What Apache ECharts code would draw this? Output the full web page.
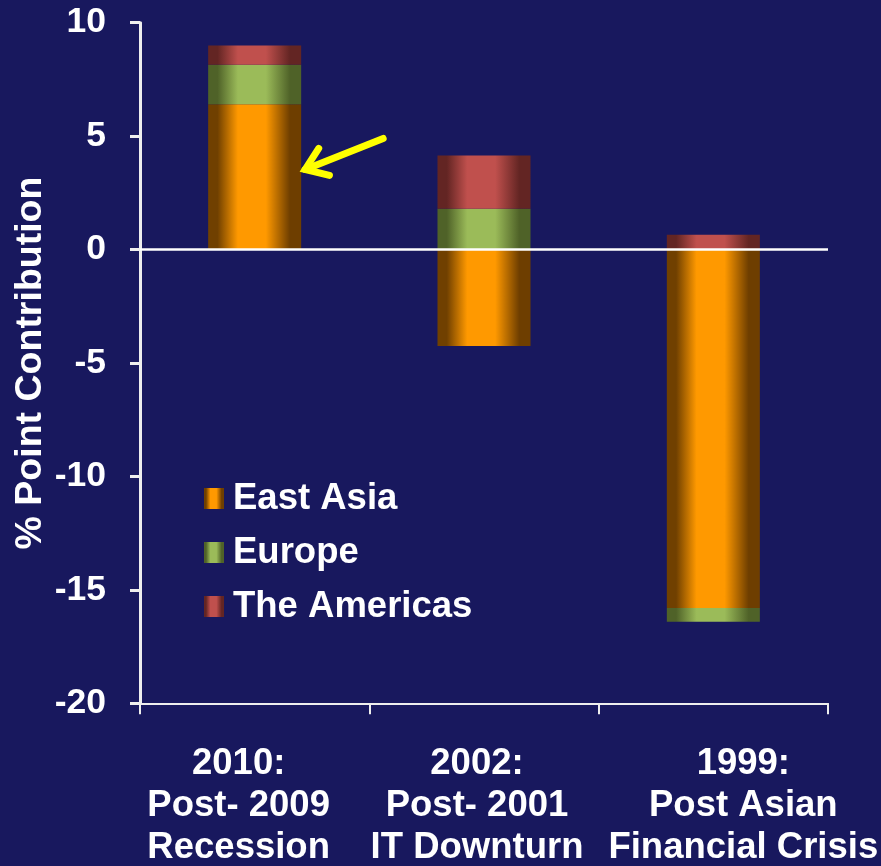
<!DOCTYPE html>
<html>
<head>
<meta charset="utf-8">
<script src="https://cdn.jsdelivr.net/npm/echarts@6/dist/echarts.min.js"></script>
<style>
  html, body { margin: 0; padding: 0; background: #18185e; }
  #chart { width: 881px; height: 866px; }
</style>
</head>
<body>
<div id="chart"></div>
<script>
// Contribution by region to export growth in three recovery periods
const categories = [
  '2010:\nPost- 2009\nRecession',
  '2002:\nPost- 2001\nIT Downturn',
  '1999:\nPost Asian\nFinancial Crisis'
];
const seriesNames = ['East Asia', 'Europe', 'The Americas'];
const eastAsia = [6.4, -4.25, -15.8];
const europe = [1.75, 1.8, -0.6];
const americas = [0.85, 2.35, 0.65];
const yTicks = { min: -20, max: 10, interval: 5 };
// value that the yellow arrow points at on the first bar
const arrowTarget = [0, 3.4];

// horizontal shift of each category label (px), negative = left
const labelShift = [-16, -7, 30];

const FONT = '"Liberation Sans", Arial, sans-serif';

function barGradient(edge, mid, edge2) {
  return new echarts.graphic.LinearGradient(0, 0, 1, 0, [
    { offset: 0, color: edge },
    { offset: 0.1, color: edge },
    { offset: 0.32, color: mid },
    { offset: 0.62, color: mid },
    { offset: 0.88, color: edge2 },
    { offset: 1, color: edge2 }
  ]);
}

const colors = [
  barGradient('#704000', '#ff9900', '#6e3e00'),
  barGradient('#4f6228', '#9bbb59', '#4f6228'),
  barGradient('#632523', '#c0504d', '#632523')
];

const rich = {};
labelShift.forEach((s, i) => {
  rich['c' + i] = {
    color: '#ffffff',
    fontFamily: FONT,
    fontWeight: 'bold',
    fontSize: 36.5,
    lineHeight: 42,
    padding: s >= 0 ? [0, 0, 0, 2 * s] : [0, -2 * s, 0, 0]
  };
});

const chart = echarts.init(document.getElementById('chart'), null, { renderer: 'canvas' });

const dataSets = [eastAsia, europe, americas];

const option = {
  backgroundColor: '#18185e',
  animation: false,
  grid: {
    left: 140, right: 53, top: 22.7, bottom: 162.7,
    containLabel: false,
    outerBoundsMode: 'none'
  },
  legend: {
    orient: 'vertical',
    left: 204,
    top: 480,
    padding: 0,
    itemWidth: 20,
    itemHeight: 21,
    itemGap: 17,
    icon: 'rect',
    data: seriesNames,
    textStyle: {
      color: '#ffffff',
      fontFamily: FONT,
      fontWeight: 'bold',
      fontSize: 36.5,
      lineHeight: 37,
      padding: [0, 0, 0, 4]
    },
    inactiveColor: '#ffffff'
  },
  xAxis: {
    type: 'category',
    data: categories,
    axisLine: { onZero: false, lineStyle: { color: '#eeeeee', width: 2 } },
    axisTick: { show: true, length: 11, lineStyle: { color: '#eeeeee', width: 2 } },
    axisLabel: {
      margin: 40,
      interval: 0,
      formatter: (val, idx) => val.split('\n').map(l => '{c' + idx + '|' + l + '}').join('\n'),
      rich: rich
    },
    splitLine: { show: false }
  },
  yAxis: {
    type: 'value',
    min: yTicks.min,
    max: yTicks.max,
    interval: yTicks.interval,
    name: '% Point Contribution',
    nameLocation: 'middle',
    nameGap: 90,
    nameMoveOverlap: false,
    nameTextStyle: {
      color: '#ffffff',
      fontFamily: FONT,
      fontWeight: 'bold',
      fontSize: 37.5
    },
    axisLine: { show: true, lineStyle: { color: '#eeeeee', width: 3 } },
    axisTick: { show: true, length: 10, lineStyle: { color: '#eeeeee', width: 3 } },
    axisLabel: {
      color: '#ffffff',
      fontFamily: FONT,
      fontWeight: 'bold',
      fontSize: 35.5,
      margin: 34
    },
    splitLine: { show: false }
  },
  series: seriesNames.map((name, i) => ({
    name: name,
    type: 'bar',
    stack: 'total',
    barWidth: 93,
    data: dataSets[i],
    itemStyle: { color: colors[i] },
    emphasis: { disabled: true },
    z: 2,
    markLine: i === 0 ? {
      silent: true,
      symbol: 'none',
      label: { show: false },
      lineStyle: { color: '#ffffff', width: 2.5, type: 'solid' },
      data: [{ yAxis: 0 }],
      z: 5
    } : undefined
  }))
};

chart.setOption(option);

// Yellow arrow pointing at the right edge of the first East Asia bar
const tipCenter = chart.convertToPixel({ xAxisIndex: 0, yAxisIndex: 0 }, arrowTarget);
const tip = [tipCenter[0] + 93 / 2 + 4, tipCenter[1] - 3];
const tail = [tip[0] + 78, tip[1] - 31];
const ang = Math.atan2(tail[1] - tip[1], tail[0] - tip[0]);
const headLen = 25, spread = 0.62;
const h1 = [tip[0] + headLen * Math.cos(ang - spread), tip[1] + headLen * Math.sin(ang - spread)];
const h2 = [tip[0] + headLen * Math.cos(ang + spread), tip[1] + headLen * Math.sin(ang + spread)];

chart.setOption({
  graphic: [
    {
      type: 'polyline',
      shape: { points: [tail, tip] },
      style: { stroke: '#ffff00', lineWidth: 7, lineCap: 'round', fill: null },
      z: 10
    },
    {
      type: 'polyline',
      shape: { points: [h1, tip, h2] },
      style: { stroke: '#ffff00', lineWidth: 7, lineCap: 'round', lineJoin: 'miter', fill: null },
      z: 10
    }
  ]
});
</script>
</body>
</html>
